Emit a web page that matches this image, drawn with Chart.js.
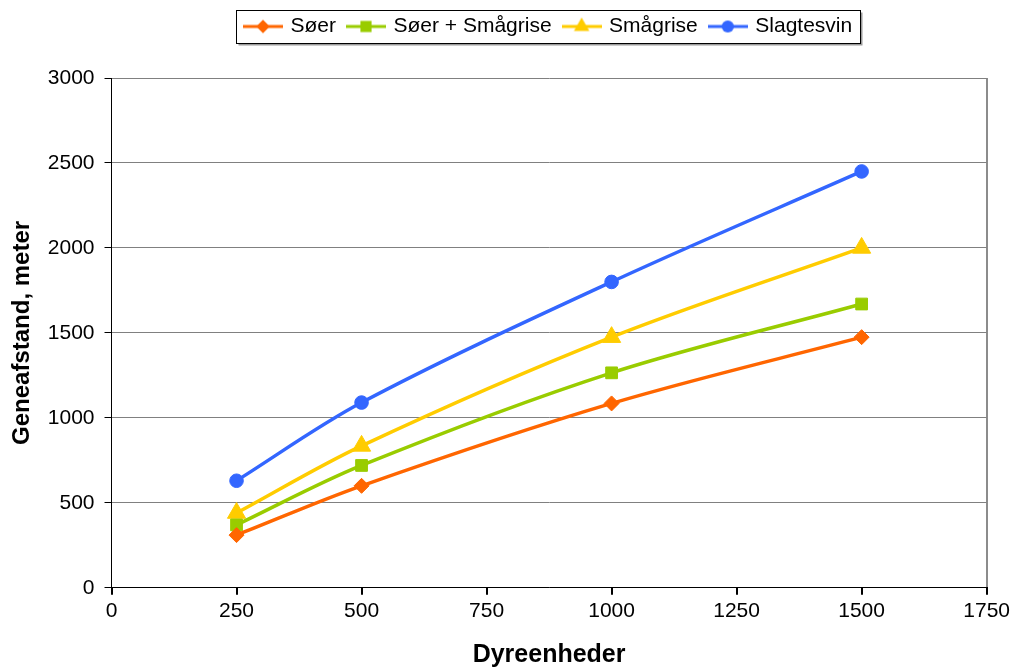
<!DOCTYPE html>
<html>
<head>
<meta charset="utf-8">
<script src="https://cdn.jsdelivr.net/npm/chart.js@4/dist/chart.umd.min.js"></script>
<style>
  html, body { margin: 0; padding: 0; background: #ffffff; }
  canvas { display: block; }
</style>
</head>
<body>
<canvas id="chart" width="1014" height="670"></canvas>
<script>
// Animal units on the x axis and the distance for each herd type
const dyreenheder = [250, 500, 1000, 1500];
const soer = [310, 600, 1085, 1475];
const soerSmaagrise = [370, 720, 1265, 1670];
const smaagrise = [440, 835, 1475, 2000];
const slagtesvin = [630, 1090, 1800, 2450];

const seriesNames = ['Søer', 'Søer + Smågrise', 'Smågrise', 'Slagtesvin'];
const xTickValues = [0, 250, 500, 750, 1000, 1250, 1500, 1750];
const yTickValues = [0, 500, 1000, 1500, 2000, 2500, 3000];

const FONT = '"Liberation Sans", Arial, Helvetica, sans-serif';

const styles = [
  { color: '#FF6600', shape: 'rectRot', radius: 7.5 },
  { color: '#99CC00', shape: 'rect', radius: 8.3 },
  { color: '#FFCC00', shape: 'triangle', radius: 10.5 },
  { color: '#3366FF', shape: 'circle', radius: 6.8 }
];

// Small line-with-marker icon for each legend entry
function legendIcon(color, shape, r) {
  const c = document.createElement('canvas');
  c.width = 40; c.height = 22;
  const g = c.getContext('2d');
  const cx = 20, cy = 11;
  g.strokeStyle = color;
  g.lineWidth = 3;
  g.beginPath(); g.moveTo(0, cy); g.lineTo(40, cy); g.stroke();
  g.fillStyle = color;
  g.beginPath();
  if (shape === 'rectRot') {
    const rr = r * 0.9;
    g.moveTo(cx, cy - rr); g.lineTo(cx + rr, cy); g.lineTo(cx, cy + rr); g.lineTo(cx - rr, cy);
  } else if (shape === 'rect') {
    const s = r * Math.SQRT2 * 0.95;
    g.rect(cx - s / 2, cy - s / 2, s, s);
  } else if (shape === 'triangle') {
    const rr = r * 0.85;
    g.moveTo(cx, cy - rr); g.lineTo(cx + rr * 0.866, cy + rr / 2); g.lineTo(cx - rr * 0.866, cy + rr / 2);
  } else {
    g.arc(cx, cy, r * 0.9, 0, Math.PI * 2);
  }
  g.closePath();
  g.fill();
  return c;
}
const icons = styles.map(s => legendIcon(s.color, s.shape, s.radius));

const values = [soer, soerSmaagrise, smaagrise, slagtesvin];
const datasets = values.map((vals, i) => ({
  label: seriesNames[i],
  data: dyreenheder.map((x, j) => ({ x: x, y: vals[j] })),
  borderColor: styles[i].color,
  backgroundColor: styles[i].color,
  borderWidth: 3.5,
  pointStyle: styles[i].shape,
  pointRadius: styles[i].radius,
  pointHoverRadius: styles[i].radius,
  pointBackgroundColor: styles[i].color,
  pointBorderColor: styles[i].color,
  pointBorderWidth: 1,
  tension: 0.33,
  fill: false
}));

// Framed legend with a soft drop shadow
const legendFrame = {
  id: 'legendFrame',
  beforeDraw(chart) {
    const lg = chart.legend;
    if (!lg || !lg.legendHitBoxes || !lg.legendHitBoxes.length) return;
    const hb = lg.legendHitBoxes;
    const first = hb[0], last = hb[hb.length - 1];
    const x0 = Math.round(first.left - 10) + 0.5;
    const x1 = Math.round(last.left + last.width + 8) + 0.5;
    const y0 = Math.round(first.top - 6) + 0.5;
    const y1 = Math.round(first.top + first.height + 6) + 0.5;
    const ctx = chart.ctx;
    ctx.save();
    ctx.fillStyle = '#9a9a9a';
    ctx.fillRect(x0 + 2, y0 + 2, x1 - x0, y1 - y0);
    ctx.fillStyle = '#ffffff';
    ctx.fillRect(x0, y0, x1 - x0, y1 - y0);
    ctx.strokeStyle = '#000000';
    ctx.lineWidth = 1;
    ctx.strokeRect(x0, y0, x1 - x0, y1 - y0);
    ctx.restore();
  }
};

const plainNumber = v => String(v);

new Chart(document.getElementById('chart'), {
  type: 'line',
  data: { datasets: datasets },
  plugins: [legendFrame],
  options: {
    responsive: false,
    animation: false,
    events: [],
    layout: { padding: { top: 3, left: 4, right: 25, bottom: 0 } },
    plugins: {
      tooltip: { enabled: false },
      title: {
        display: true,
        text: ' ',
        position: 'top',
        weight: 500,
        font: { size: 10, family: FONT },
        padding: { top: 0, bottom: 19 }
      },
      legend: {
        display: true,
        position: 'top',
        fullSize: false,
        labels: {
          usePointStyle: true,
          pointStyleWidth: 34,
          boxHeight: 20,
          padding: 13,
          color: '#000000',
          font: { family: FONT, size: 21 },
          generateLabels(chart) {
            const items = Chart.defaults.plugins.legend.labels.generateLabels(chart);
            return items.map((it, i) => Object.assign(it, { pointStyle: icons[i], fontColor: '#000000' }));
          }
        }
      }
    },
    scales: {
      x: {
        type: 'linear',
        min: 0,
        max: 1750,
        afterBuildTicks(scale) { scale.ticks = xTickValues.map(v => ({ value: v })); },
        ticks: {
          color: '#000000',
          font: { family: FONT, size: 21 },
          padding: 4,
          maxRotation: 0,
          autoSkip: false,
          callback: plainNumber
        },
        grid: {
          drawOnChartArea: true,
          drawTicks: true,
          tickLength: 7,
          tickColor: '#000000',
          lineWidth: 2,
          color: ctx => (ctx.tick && ctx.tick.value === 1750 ? '#8c8c8c' : 'rgba(0,0,0,0)')
        },
        border: { display: true, color: '#000000', width: 1 },
        title: {
          display: true,
          text: 'Dyreenheder',
          color: '#000000',
          font: { family: FONT, size: 25, weight: 'bold' },
          padding: { top: 12, bottom: 0 }
        }
      },
      y: {
        min: 0,
        max: 3000,
        afterBuildTicks(scale) { scale.ticks = yTickValues.map(v => ({ value: v })); },
        ticks: {
          color: '#000000',
          font: { family: FONT, size: 21 },
          padding: 10,
          callback: plainNumber
        },
        grid: {
          drawOnChartArea: true,
          drawTicks: true,
          tickLength: 7,
          tickColor: '#000000',
          color: '#808080',
          lineWidth: 1
        },
        border: { display: true, color: '#000000', width: 1 },
        title: {
          display: true,
          text: 'Geneafstand, meter',
          color: '#000000',
          font: { family: FONT, size: 24, weight: 'bold' },
          padding: { top: 4, bottom: 1 }
        }
      }
    }
  }
});
</script>
</body>
</html>
